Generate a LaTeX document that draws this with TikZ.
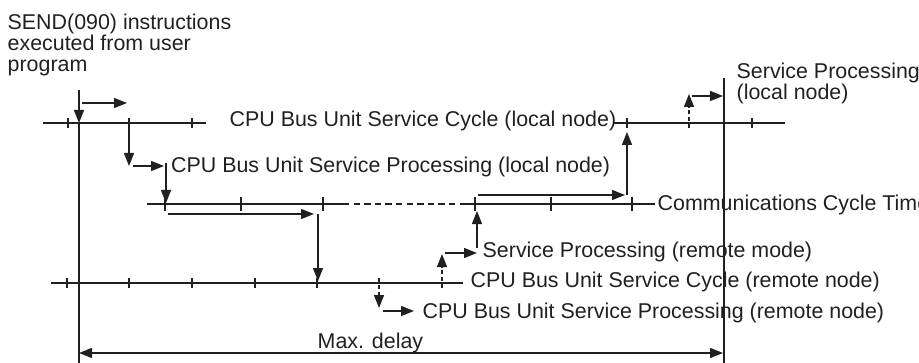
\documentclass[tikz,border=0pt]{standalone}
\usepackage{fontspec}
\setmainfont{Liberation Sans}
\usetikzlibrary{arrows.meta}
\definecolor{ink}{RGB}{35,31,32}
\begin{document}
\begin{tikzpicture}[x=0.5pt,y=-0.5pt,line width=0.7pt,draw=ink,
  arr/.style={-{Triangle[length=6.5pt,width=5pt]}},
  dbl/.style={{Triangle[length=6.5pt,width=5pt]}-{Triangle[length=6.5pt,width=5pt]}},
  dash line/.style={dash pattern=on 3.2pt off 2.1pt},
  dash short/.style={dash pattern=on 2.2pt off 1.2pt},
  guide/.style={line width=0.6pt},
  lbl/.style={anchor=base west,inner sep=0pt,font=\fontsize{10.7pt}{10.7pt}\selectfont,text=ink}]
\useasboundingbox (0,0) rectangle (919,363);

% texts
\node[lbl] (send1) at (7,30) {SEND(090) instructions};
\node[lbl] (send2) at (7,51) {executed from user};
\node[lbl] (send3) at (7,72) {program};
\node[lbl] (cyclocal) at (229,127) {CPU Bus Unit Service Cycle (local node)};
\node[lbl] (proclocal) at (170.5,173) {CPU Bus Unit Service Processing (local node)};
\node[lbl] (comm) at (657,211) {Communications Cycle Time};
\node[lbl] (sp1) at (736,79) {Service Processing};
\node[lbl] (sp2) at (736,100) {(local node)};
\node[lbl] (spremote) at (482,257) {Service Processing (remote mode)};
\node[lbl] (cycremote) at (470,287) {CPU Bus Unit Service Cycle (remote node)};
\node[lbl] (procremote) at (422,318) {CPU Bus Unit Service Processing (remote node)};
\node[lbl] (maxdelay) at (317,348) {Max. delay};

% guide verticals
\draw[guide,arr] (79,90) -- (79,123);
\draw[guide] (79,123) -- (79,363);
\draw[guide] (724,78) -- (724,363);

% top line (local node cycle)
\draw (43,123) -- (206,123);
\foreach \x in {68,129,192} \draw (\x,118) -- (\x,128);
\draw (614,123) -- (785,123);
\foreach \x in {627,752} \draw (\x,118) -- (\x,128);
\draw[dash short,arr] (689,128) -- (689,94);

% middle line (communications cycle)
\draw (147,204) -- (343,204);
\draw[dash line] (343,204) -- (460,204);
\draw (460,204) -- (655,204);
\foreach \x in {165,241,323,475,551,632} \draw (\x,197) -- (\x,211);

% bottom line (remote node cycle)
\draw (51,283) -- (463,283);
\foreach \x in {67,129,192,255,317} \draw (\x,278) -- (\x,288);
\draw[dash short,arr] (379,278) -- (379,308);
\draw[dash short,arr] (442,288) -- (442,254);

% flow arrows
\draw[arr] (82,103) -- (127,103);
\draw[arr] (129,123) -- (129,166);
\draw[arr] (133,166) -- (164,166);
\draw[arr] (166,163) -- (166,203);
\draw[arr] (168,214) -- (314,214);
\draw[arr] (318,214) -- (318,281);
\draw[arr] (383,311) -- (414,311);
\draw[arr] (445,253) -- (477,253);
\draw[arr] (477,248) -- (477,211);
\draw[arr] (478,195) -- (625,195);
\draw[arr] (627,195) -- (627,132);
\draw[arr] (692,96) -- (723,96);

% max delay
\draw[dbl] (79,353) -- (723,353);
\end{tikzpicture}
\end{document}
